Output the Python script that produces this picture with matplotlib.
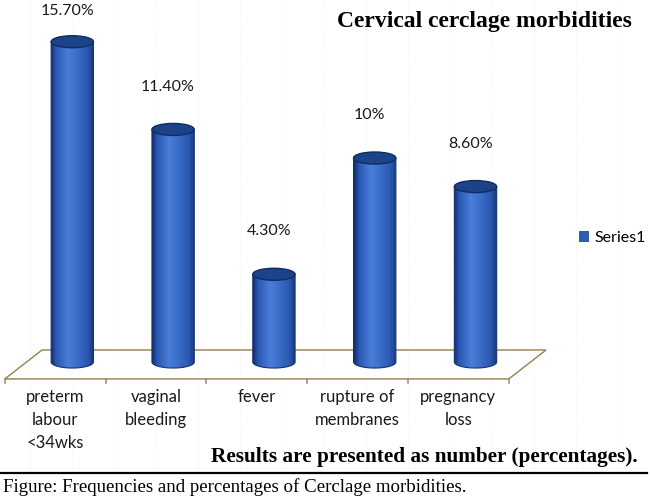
import numpy as np
import matplotlib
matplotlib.use("Agg")
import matplotlib.pyplot as plt
from matplotlib.colors import LinearSegmentedColormap
from matplotlib.patches import Polygon, Ellipse, Patch
from matplotlib.lines import Line2D


# Chart data
categories = ["preterm\nlabour\n<34wks", "vaginal\nbleeding", "fever",
              "rupture of\nmembranes", "pregnancy\nloss"]
values = [15.7, 11.4, 4.3, 10.0, 8.6]
value_labels = ["15.70%", "11.40%", "4.30%", "10%", "8.60%"]
series_name = "Series1"
title = "Cervical cerclage morbidities"
note = "Results are presented as number (percentages)."
caption = "Figure: Frequencies and percentages of Cerclage morbidities."

W, H = 650, 500
label_font = "Lato"
serif_font = "Liberation Serif"

# cylinder look
body_cmap = LinearSegmentedColormap.from_list(
    "cyl", [(0.0, "#132d66"), (0.12, "#2a58b4"), (0.4, "#4a7ed8"),
            (0.55, "#3f72cf"), (0.85, "#2b59b2"), (1.0, "#16367a")])
bar_w = 0.42
ell_h = 0.59
floor_color = "#9c8a5e"

fig = plt.figure(figsize=(W / 100, H / 100), dpi=100)
fig.patch.set_facecolor("white")

# faint background texture lines
for xp in range(30, 650, 42):
    fig.add_artist(Line2D([xp / W, xp / W], [1 - 470 / H, 1.0], lw=0.6,
                          color="#ededed", linestyle=(0, (1, 2)), zorder=0))

ax = fig.add_axes([21.9 / W, (H - 386.5) / H, 504 / W, (386.5 - 15.2) / H])
ax.set_xlim(-0.5, 4.5)
ax.set_ylim(-1.2, 17.0)
ax.axis("off")

n = len(categories)
# floor of the 3d chart
fx0 = -0.67
f_front, f_back, f_dx = -0.83, 0.59, 0.37
floor = Polygon([(fx0, f_front), (fx0 + n, f_front), (fx0 + n + f_dx, f_back),
                 (fx0 + f_dx, f_back)], closed=True, fill=False,
                edgecolor=floor_color, lw=1.1, zorder=1, clip_on=False)
ax.add_patch(floor)
for k in range(n + 1):
    ax.plot([fx0 + k, fx0 + k], [f_front, f_front - 0.22], color=floor_color,
            lw=1.1, zorder=1, clip_on=False)

# cylinders
grad = np.linspace(0, 1, 256).reshape(1, -1)
t = np.linspace(np.pi, 2 * np.pi, 40)
for i, v in enumerate(values):
    x0, x1 = i - bar_w / 2, i + bar_w / 2
    outline = [(x0, v), (x0, 0)]
    outline += list(zip(i + bar_w / 2 * np.cos(t), ell_h / 2 * np.sin(t)))
    outline += [(x1, 0), (x1, v)]
    clip = Polygon(outline, closed=True, transform=ax.transData)
    im = ax.imshow(grad, cmap=body_cmap, aspect="auto", interpolation="bicubic",
                   extent=[x0, x1, -ell_h / 2, v], zorder=2)
    im.set_clip_path(clip)
    ax.add_patch(Polygon(outline, closed=True, fill=False, edgecolor="#15346f",
                         lw=0.8, zorder=3))
    ax.add_patch(Ellipse((i, v), bar_w, ell_h, facecolor="#1c4289",
                         edgecolor="#102c62", lw=1.0, zorder=4))
    ax.text(i - 0.05, min(v + 2.1, 17.2), value_labels[i], ha="center",
            va="center", fontsize=11.5, family=label_font, color="#1a1a1a",
            clip_on=False)

ax.set_xlim(-0.5, 4.5)
ax.set_ylim(-1.2, 17.0)

for k, cat in enumerate(categories):
    ax.text(fx0 + k + 0.5, -1.3, cat, ha="center", va="top", fontsize=12,
            family=label_font, color="#1a1a1a", linespacing=1.55,
            clip_on=False)

fig.legend(handles=[Patch(facecolor="#2f5fb0", label=series_name)],
           loc="center left", bbox_to_anchor=(579 / W, 1 - 238 / H),
           frameon=False, handlelength=0.6, handleheight=0.7,
           handletextpad=0.4, borderpad=0, borderaxespad=0,
           prop={"family": label_font, "size": 11.5})

fig.text(632 / W, 1 - 22 / H, title, ha="right", va="center", fontsize=17,
         family=serif_font, weight="bold")
fig.text(638 / W, 1 - 457 / H, note, ha="right", va="center", fontsize=15.3,
         family=serif_font, weight="bold")
fig.add_artist(Line2D([0, 647 / W], [1 - 473 / H, 1 - 473 / H], lw=1.6,
                      color="black"))
fig.text(3 / W, 1 - 487 / H, caption, ha="left", va="center", fontsize=13.6,
         family=serif_font)

fig.savefig("out.png", dpi=100)
